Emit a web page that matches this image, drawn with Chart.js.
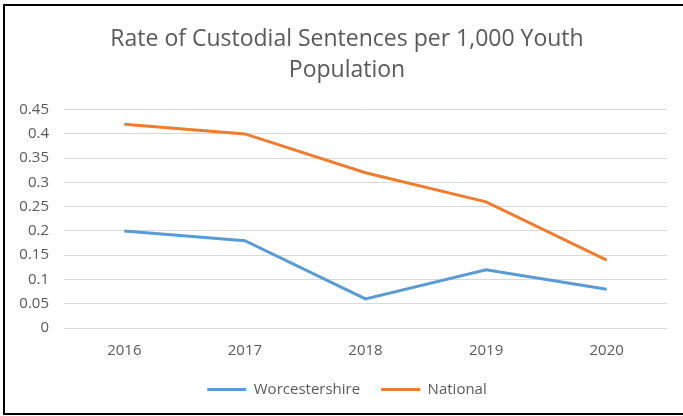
<!DOCTYPE html>
<html>
<head>
<meta charset="utf-8">
<title>Rate of Custodial Sentences</title>
<script src="https://cdn.jsdelivr.net/npm/chart.js@4"></script>
<style>
    html, body { margin: 0; padding: 0; background: #fff; overflow: hidden; }
    #frame {
        position: absolute;
        left: 3px;
        top: 4px;
        width: 700px;
        height: 407px;
        border: 2px solid #000;
        background: #fff;
    }
    #chartCanvas { display: block; }
</style>
</head>
<body>
<div id="frame">
    <div style="position: relative; width: 684px; height: 407px;">
        <canvas id="chartCanvas"></canvas>
    </div>
</div>
<script>
'use strict';

// Chart data
const years = ['2016', '2017', '2018', '2019', '2020'];
const worcestershire = [0.2, 0.18, 0.06, 0.12, 0.08];
const national = [0.42, 0.40, 0.32, 0.26, 0.14];
const yTicks = [0, 0.05, 0.1, 0.15, 0.2, 0.25, 0.3, 0.35, 0.4, 0.45];

const textColor = '#595959';
const fontFamily = '"Open Sans", "Noto Sans", sans-serif';

/**
 * Create the line chart
 * @param {string} canvasId - The ID of the canvas element
 */
function createLineChart(canvasId) {
    const ctx = document.getElementById(canvasId);
    if (!ctx) {
        console.error(`Canvas element with id "${canvasId}" not found`);
        return null;
    }

    return new Chart(ctx, {
        type: 'line',
        data: {
            labels: years,
            datasets: [{
                label: 'Worcestershire',
                data: worcestershire,
                borderColor: '#5B9BD5',
                backgroundColor: '#5B9BD5',
                borderWidth: 3,
                pointRadius: 0,
                tension: 0
            }, {
                label: 'National',
                data: national,
                borderColor: '#ED7D31',
                backgroundColor: '#ED7D31',
                borderWidth: 3,
                pointRadius: 0,
                tension: 0
            }]
        },
        options: {
            responsive: true,
            maintainAspectRatio: false,
            animation: false,
            layout: {
                padding: { left: 0, right: 0, top: 0, bottom: 6 }
            },
            plugins: {
                title: {
                    display: true,
                    text: ['Rate of Custodial Sentences per 1,000 Youth', 'Population'],
                    color: textColor,
                    font: { family: fontFamily, size: 23, weight: 'normal', lineHeight: 1.34 },
                    padding: { top: 18, bottom: 24 }
                },
                legend: {
                    position: 'bottom',
                    labels: {
                        color: textColor,
                        font: { family: fontFamily, size: 15 },
                        boxWidth: 39,
                        boxHeight: 3,
                        padding: 21,
                        generateLabels: function(chart) {
                            return chart.data.datasets.map((ds, i) => ({
                                text: ds.label,
                                fillStyle: ds.borderColor,
                                strokeStyle: ds.borderColor,
                                lineWidth: 0,
                                fontColor: textColor,
                                datasetIndex: i
                            }));
                        }
                    }
                },
                tooltip: { enabled: false }
            },
            scales: {
                x: {
                    offset: true,
                    afterFit: function(scale) {
                        scale.height = 33;
                    },
                    grid: { display: false, drawTicks: false },
                    border: { display: false },
                    ticks: {
                        color: textColor,
                        font: { family: fontFamily, size: 15 },
                        padding: 14
                    }
                },
                y: {
                    min: 0,
                    max: 0.45,
                    afterBuildTicks: function(scale) {
                        scale.ticks = yTicks.map(v => ({ value: v }));
                    },
                    afterFit: function(scale) {
                        scale.width = 59;
                    },
                    grid: { color: '#D9D9D9', lineWidth: 1, drawTicks: false },
                    border: { display: false },
                    ticks: {
                        color: textColor,
                        font: { family: fontFamily, size: 15 },
                        padding: 15,
                        callback: function(value) {
                            return String(Math.round(value * 100) / 100);
                        }
                    }
                },
                // empty spacer on the right so the plot stops short of the frame
                spacer: {
                    type: 'linear',
                    position: 'right',
                    min: 0,
                    max: 1,
                    afterFit: function(scale) {
                        scale.width = 22;
                    },
                    grid: { display: false, drawTicks: false },
                    border: { display: false },
                    ticks: { display: false }
                }
            }
        }
    });
}

createLineChart('chartCanvas');
</script>
</body>
</html>
